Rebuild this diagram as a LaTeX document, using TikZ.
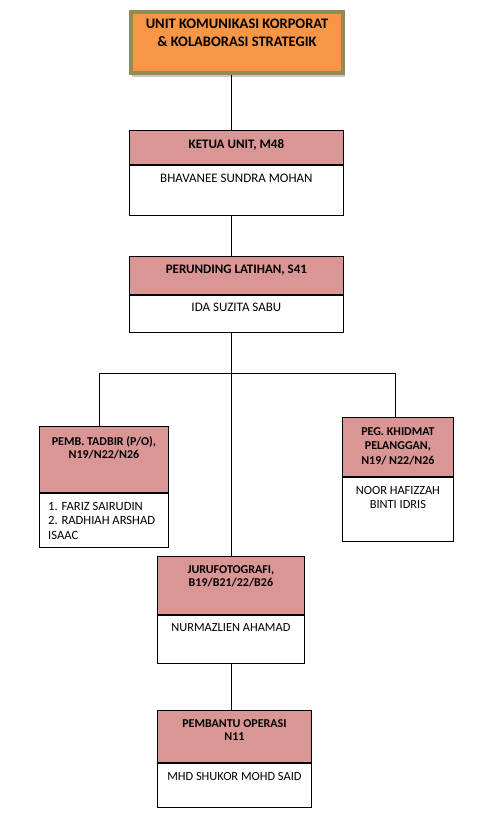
\documentclass[tikz,border=0pt]{standalone}
\usepackage{fontspec}
\setmainfont{Carlito}
\definecolor{hdrpink}{HTML}{D99694}
\definecolor{unitorange}{HTML}{F79646}
\definecolor{unitolive}{HTML}{948A54}

\begin{document}
\begin{tikzpicture}[x=1pt,y=-1pt,
   box/.style={draw,line width=0.8pt,inner sep=0pt,anchor=north west},
   hdr/.style={box,fill=hdrpink},
   txt/.style={anchor=north,inner xsep=0pt,inner ysep=9pt,align=center,font=\fontsize{13}{14}\selectfont},
   smalltxt/.style={txt,font=\fontsize{12.4}{14}\selectfont},
   hdrtxt/.style={txt,font=\bfseries\fontsize{13}{13.5}\selectfont},
   smallhdr/.style={txt,font=\bfseries\fontsize{12}{13.5}\selectfont},
   link/.style={line width=0.8pt}]
   \useasboundingbox (0,0) rectangle (494,822);
   \coordinate (spine) at (231,0);
   \coordinate (brL) at (99,373);
   \coordinate (brR) at (395,373);
   % unit
   \fill[black!22] (132,14) rectangle (345,77);
   \node[box,draw=unitolive,line width=4pt,fill=unitorange,minimum width=212pt,minimum height=61pt] (unit) at (129,10) {};
   \node[txt,font=\bfseries\fontsize{14.5}{17.5}\selectfont] (unitT) at (unit.north) {UNIT KOMUNIKASI KORPORAT\\ \& KOLABORASI STRATEGIK};
   % ketua unit
   \node[hdr,minimum width=214pt,minimum height=34pt] (ketuaH) at (129,130) {};
   \node[box,minimum width=214pt,minimum height=50pt] (ketuaB) at (ketuaH.south west) {};
   \node[hdrtxt] (ketuaT) at (ketuaH.north) {KETUA UNIT, M48};
   \node[txt] (ketuaN) at (ketuaB.north) {BHAVANEE SUNDRA MOHAN};
   % perunding
   \node[hdr,minimum width=214pt,minimum height=38pt] (perH) at (129,256) {};
   \node[box,minimum width=214pt,minimum height=37pt] (perB) at (perH.south west) {};
   \node[hdrtxt] (perT) at (perH.north) {PERUNDING LATIHAN, S41};
   \node[txt,inner ysep=8pt] (perN) at (perB.north) {IDA SUZITA SABU};
   % tadbir
   \node[hdr,minimum width=129pt,minimum height=66pt] (tadbirH) at (39,426) {};
   \node[box,minimum width=129pt,minimum height=54pt] (tadbirB) at (tadbirH.south west) {};
   \node[smallhdr,inner ysep=10pt] (tadbirT) at (tadbirH.north) {PEMB. TADBIR (P/O),\\ N19/N22/N26};
   \node[smalltxt,anchor=north west,align=left,inner xsep=9pt,font=\fontsize{12.6}{14.5}\selectfont] (tadbirN) at (tadbirB.north west) {1. FARIZ SAIRUDIN\\ 2. RADHIAH ARSHAD\\ ISAAC};
   % khidmat pelanggan
   \node[hdr,minimum width=111pt,minimum height=59pt] (khidH) at (342,417) {};
   \node[box,minimum width=111pt,minimum height=64pt] (khidB) at (khidH.south west) {};
   \node[smallhdr,inner ysep=10pt,font=\bfseries\fontsize{12}{14.5}\selectfont] (khidT) at (khidH.north) {PEG. KHIDMAT\\ PELANGGAN,\\ N19/ N22/N26};
   \node[smalltxt,inner ysep=9.5pt] (khidN) at (khidB.north) {NOOR HAFIZZAH\\ BINTI IDRIS};
   % jurufotografi
   \node[hdr,minimum width=147pt,minimum height=58pt] (juruH) at (157,556) {};
   \node[box,minimum width=147pt,minimum height=48pt] (juruB) at (juruH.south west) {};
   \node[smallhdr] (juruT) at (juruH.north) {JURUFOTOGRAFI,\\ B19/B21/22/B26};
   \node[smalltxt] (juruN) at (juruB.north) {NURMAZLIEN AHAMAD};
   % pembantu operasi
   \node[hdr,minimum width=154pt,minimum height=52pt] (pembH) at (157,710) {};
   \node[box,minimum width=154pt,minimum height=44pt] (pembB) at (pembH.south west) {};
   \node[smallhdr] (pembT) at (pembH.north) {PEMBANTU OPERASI\\ N11};
   \node[smalltxt] (pembN) at (pembB.north) {MHD SHUKOR MOHD SAID};
   % lines
   \draw[link] (unit.south -| spine) -- (ketuaH.north -| spine);
   \draw[link] (ketuaB.south -| spine) -- (perH.north -| spine);
   \draw[link] (perB.south -| spine) -- (juruH.north -| spine);
   \draw[link] (tadbirH.north -| brL) |- (brR) -- (khidH.north -| brR);
   \draw[link] (juruB.south -| spine) -- (pembH.north -| spine);
\end{tikzpicture}
\end{document}
